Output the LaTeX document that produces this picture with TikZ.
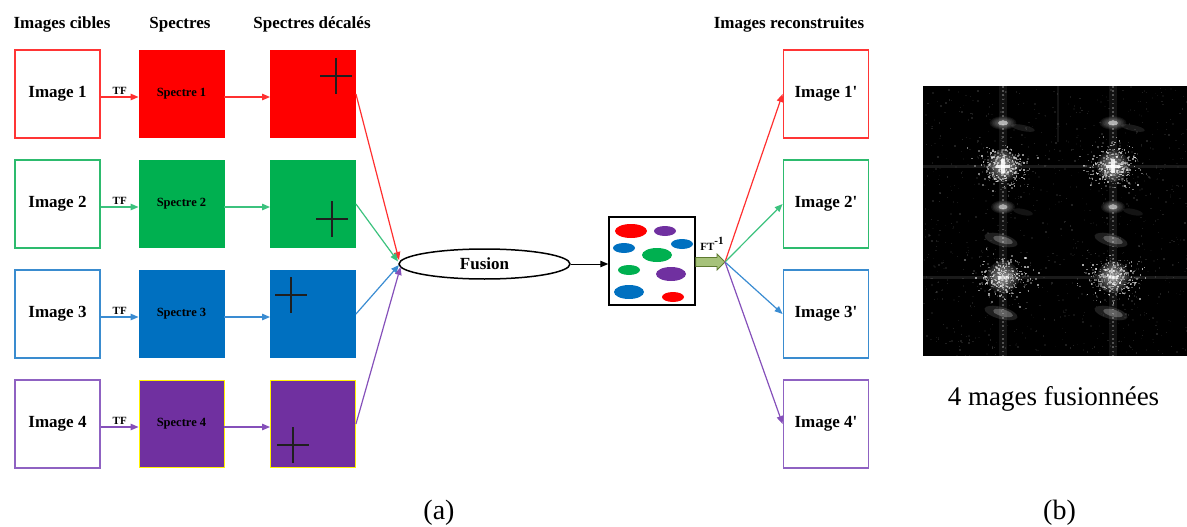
\documentclass[tikz,border=0pt]{standalone}
\usepackage{fontspec}
\setmainfont{Liberation Serif}
\usetikzlibrary{arrows.meta,shapes.geometric}

% fills of the spectra
\definecolor{cRed}{HTML}{FF0000}
\definecolor{cGreen}{HTML}{00B050}
\definecolor{cBlue}{HTML}{0070C0}
\definecolor{cPurple}{HTML}{7030A0}
% outlines of the image frames
\definecolor{oRed}{HTML}{FF3535}
\definecolor{oGreen}{HTML}{2DBB6E}
\definecolor{oBlue}{HTML}{3A8CCF}
\definecolor{oPurple}{HTML}{8F62C2}
% connector colours
\definecolor{lRed}{HTML}{FF3030}
\definecolor{lGreen}{HTML}{3CC27E}
\definecolor{lBlue}{HTML}{3A8CD2}
\definecolor{lPurple}{HTML}{8550BA}
\definecolor{olivefill}{HTML}{A6C27A}
\definecolor{olivedraw}{HTML}{5E7A30}

\begin{document}
\begin{tikzpicture}[x=1pt,y=-1pt,
  imgbox/.style={draw, line width=1.8pt, fill=white, minimum width=85pt,
    minimum height=88pt, inner sep=0pt, font=\bfseries\fontsize{17}{20}\selectfont},
  specbox/.style={line width=0.9pt, minimum width=85pt, minimum height=87pt,
    inner sep=0pt, font=\bfseries\fontsize{12.5}{15}\selectfont},
  hdr/.style={anchor=base, font=\bfseries\fontsize{17}{20}\selectfont},
  conn/.style={line width=1.2pt, -{Triangle[length=8pt,width=6.5pt]}},
  tflabel/.style={above, inner sep=2pt, text=black, font=\bfseries\fontsize{11}{13}\selectfont},
  crossline/.style={line width=1.9pt, color=black!88},
  caption/.style={anchor=base, font=\fontsize{28}{32}\selectfont}
]
\useasboundingbox (0,0) rectangle (1187,527);

% column headings
\node[hdr] (h1) at (62,29) {Images cibles};
\node[hdr] (h2) at (180,29) {Spectres};
\node[hdr] (h3) at (312,29) {Spectres décalés};
\node[hdr] (h4) at (789,29) {Images reconstruites};

% fusion stage
\node[draw, ellipse, line width=1.5pt, minimum width=171pt, minimum height=30pt,
  inner sep=0pt, font=\bfseries\fontsize{17}{20}\selectfont] (fus) at (484.5,264) {Fusion};
\coordinate (cv1) at (399,260);
\coordinate (cv2) at (398,261.5);
\coordinate (cv3) at (399,265);
\coordinate (cv4) at (400.5,267);
\coordinate (fan) at (725,262);

% fused spectrum box
\node[draw, line width=1.5pt, minimum width=86pt, minimum height=88pt, inner sep=0pt]
  (fz) at (652,261) {};
\fill[cRed]    (631,231) ellipse [x radius=16pt, y radius=7pt];
\fill[cPurple] (665,231) ellipse [x radius=11pt, y radius=5pt];
\fill[cBlue]   (624,248) ellipse [x radius=11pt, y radius=5pt];
\fill[cBlue]   (682,244) ellipse [x radius=11pt, y radius=5pt];
\fill[cGreen]  (657,255) ellipse [x radius=15pt, y radius=7pt];
\fill[cGreen]  (629,270) ellipse [x radius=11pt, y radius=5pt];
\fill[cPurple] (671,274) ellipse [x radius=15pt, y radius=7pt];
\fill[cBlue]   (629,292) ellipse [x radius=15pt, y radius=7pt];
\fill[cRed]    (673,297) ellipse [x radius=11pt, y radius=5pt];

\draw[conn, black, line width=1pt] (fus.east) -- (fus.east -| fz.west);

% inverse transform arrow
\draw[fill=olivefill, draw=olivedraw, line width=0.8pt]
  (695.8,257.5) -- (717,257.5) -- (717,254) -- (fan) -- (717,270) -- (717,266.5)
  -- (695.8,266.5) -- cycle;
\node[font=\bfseries\fontsize{11}{13}\selectfont, inner sep=0pt] (ft) at (712,244)
  {FT\raisebox{6pt}{\fontsize{11}{13}\selectfont -1}};

% the four channels
\foreach \k/\yc/\oc/\lc/\fc/\bc/\cx/\cy in {
  1/94/oRed/lRed/cRed/cRed/336/76,
  2/204/oGreen/lGreen/cGreen/cGreen/332/219,
  3/314/oBlue/lBlue/cBlue/cBlue/291/295,
  4/424/oPurple/lPurple/cPurple/yellow/293/445}
{
  \node[imgbox, draw=\oc] (i\k) at (57.5,\yc) {Image \k};
  \node[specbox, fill=\fc, draw=\bc] (s\k) at (181.5,\yc) {Spectre \k};
  \node[specbox, fill=\fc, draw=\bc] (d\k) at (313,\yc) {};
  \node[imgbox, draw=\oc] (r\k) at (826,\yc) {Image \k\textquotesingle};
  \draw[conn, \lc] ([yshift=-3pt]i\k.east) -- node[tflabel] {TF} ([yshift=-3pt]s\k.west);
  \draw[conn, \lc] ([yshift=-3pt]s\k.east) -- ([yshift=-3pt]d\k.west);
  \draw[crossline] ({\cx-16},\cy) -- ({\cx+16},\cy) (\cx,{\cy-18}) -- (\cx,{\cy+18});
  \draw[conn, \lc] (d\k.east) -- (cv\k);
  \draw[conn, \lc] (fan) -- (r\k.west);
}

% magnitude spectrum of the four fused images
\begin{scope}
  \clip (923,86) rectangle (1187,356);
  \fill[black] (923,86) rectangle (1187,356);
  \pgfmathsetseed{12}
  \foreach \i in {1,...,900}{
    \pgfmathsetmacro\px{923+264*rnd}
    \pgfmathsetmacro\py{86+270*rnd}
    \pgfmathsetmacro\po{0.03+0.11*rnd}
    \fill[white, opacity=\po] (\px,\py) rectangle ++(1.4,1.4);
  }
  % faint axes through the peaks
  \fill[white, opacity=0.1] (923,165) rectangle (1187,167.5);
  \fill[white, opacity=0.1] (923,276) rectangle (1187,278.5);
  \foreach \vx in {1003,1113}{
    \fill[white, opacity=0.07] (\vx-4,86) rectangle (\vx+4,356);
    \draw[white, opacity=0.28, line width=2.2pt, dash pattern=on 1.6pt off 2.6pt]
      (\vx,86) -- (\vx,356);
  }
  \fill[white, opacity=0.08] (1057,86) rectangle (1059,142);
  % speckle around the peaks
  \foreach \pcx/\pcy in {1003/166,1113/166,1003/277,1113/277}{
    \foreach \i in {1,...,320}{
      \pgfmathsetmacro\dx{(rnd+rnd+rnd+rnd-2)*22}
      \pgfmathsetmacro\dy{(rnd+rnd+rnd+rnd-2)*18}
      \pgfmathsetmacro\po{0.12+0.55*rnd}
      \fill[white, opacity=\po] ({\pcx+\dx},{\pcy+\dy}) rectangle ++(1.5,1.5);
    }
    \foreach \s in {1,...,8}{
      \pgfmathsetmacro\rr{16*\s/8}
      \fill[white, opacity=0.09] (\pcx,\pcy) circle (\rr pt);
    }
  }
  % bright crosses at the upper peaks
  \foreach \pcx in {1003,1113}{
    \fill[white, opacity=0.85] (\pcx-7,164.5) rectangle (\pcx+7,168);
    \fill[white, opacity=0.85] (\pcx-2.2,159) rectangle (\pcx+2.2,173);
    \fill[white, opacity=0.5] (\pcx-5,276) rectangle (\pcx+5,279);
  }
  % secondary lobes
  \foreach \pcx in {1003,1113}{
    \foreach \by/\bx/\brx/\bry/\bo in {123/0/5/2.5/0.55, 207/0/4.5/2.5/0.5}{
      \foreach \s in {1,...,5}{
        \pgfmathsetmacro\rr{\brx*(1+\s/3)}
        \pgfmathsetmacro\ry{\bry*(1+\s/3)}
        \fill[white, opacity=0.07] (\pcx+\bx,\by) ellipse [x radius=\rr pt, y radius=\ry pt];
      }
      \fill[white, opacity=\bo] (\pcx+\bx,\by) ellipse [x radius=\brx pt, y radius=\bry pt];
    }
    \fill[white, opacity=0.1, rotate around={-12:(\pcx+20,128)}]
      (\pcx+20,128) ellipse [x radius=12pt, y radius=3pt];
    \fill[white, opacity=0.08, rotate around={-12:(\pcx+20,212)}]
      (\pcx+20,212) ellipse [x radius=10pt, y radius=3pt];
    \foreach \by in {240,313}{
      \fill[white, opacity=0.12, rotate around={-15:(\pcx-2,\by)}]
        (\pcx-2,\by) ellipse [x radius=17pt, y radius=6pt];
      \fill[white, opacity=0.25, rotate around={-15:(\pcx,\by)}]
        (\pcx,\by) ellipse [x radius=10pt, y radius=3.5pt];
    }
  }
\end{scope}

% captions
\node[caption, font=\fontsize{27}{30}\selectfont] (capimg) at (1053.5,405) {4 mages fusionnées};
\node[caption] (capa) at (439,519) {(a)};
\node[caption] (capb) at (1059.5,519) {(b)};
\end{tikzpicture}
\end{document}
